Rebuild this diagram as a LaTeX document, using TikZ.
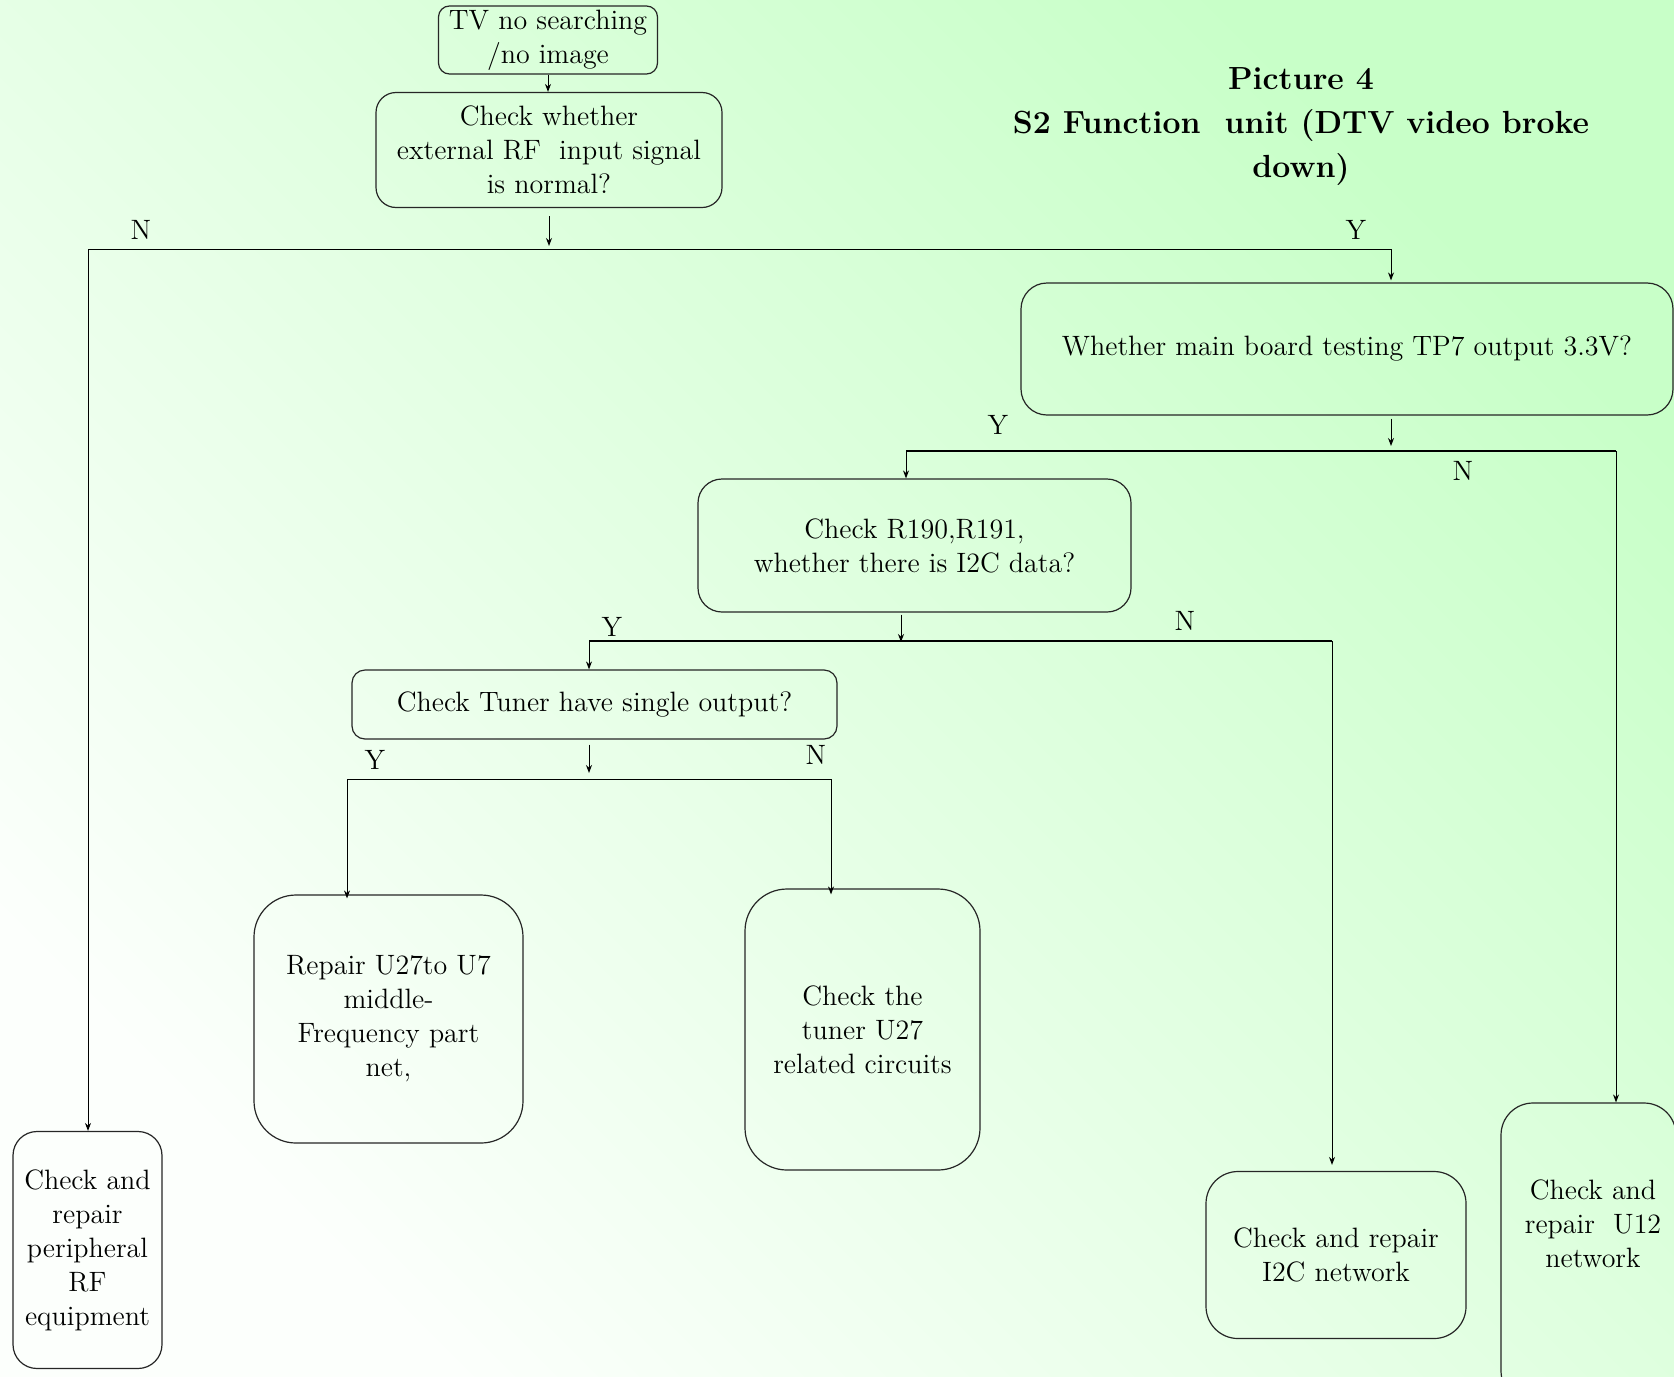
\documentclass[tikz,border=0pt]{standalone}
\usepackage{xcolor}
\usetikzlibrary{positioning}
\usetikzlibrary{arrows.meta}

\definecolor{bgwhite}{RGB}{252,255,252}
\definecolor{bgmid}{RGB}{230,255,230}
\definecolor{bggreen}{RGB}{200,255,200}

\begin{document}
\begin{tikzpicture}[x=0.5pt,y=-0.5pt,
    box/.style={draw=black!85, line width=0.6pt, align=center, inner sep=0pt,
                font=\fontsize{14}{17}\selectfont},
    yn/.style={font=\fontsize{14}{17}\selectfont},
    line/.style={black, line width=0.5pt},
    arr/.style={black, line width=0.5pt, -{Stealth[length=4pt,width=3pt]}},
    bus/.style={black, line width=1.2pt}]
            % Draw Background
            \useasboundingbox (0,0) rectangle (1674,1376);
            \shade[bottom color=bgwhite, middle color=bgmid, top color=bggreen, shading angle=-45]
                (0,0) rectangle (1674,1376);

            % Title
            \node[align=center, font=\fontsize{16}{22}\selectfont\bfseries] (title) at (1301,127)
                {Picture 4\\S2 Function\ \ unit (DTV video broke\\down)};

            % Draw Boxes
            \node[box, rounded corners=5.5pt, minimum width=109.5pt, minimum height=34pt] (start) at (548,40)
                {TV no searching\\/no image};
            \node[box, rounded corners=10pt, minimum width=173pt, minimum height=57.5pt] (rfin) at (549,150)
                {Check whether\\external RF\ \ input signal\\is normal?};
            \node[box, rounded corners=13pt, minimum width=326pt, minimum height=66pt] (tp7) at (1347,349)
                {Whether main board testing TP7 output 3.3V?};
            \node[box, rounded corners=12pt, minimum width=216.5pt, minimum height=66.5pt] (rdata) at (914.5,545.5)
                {Check R190,R191,\\whether there is I2C data?};
            \node[box, rounded corners=6.5pt, minimum width=242.5pt, minimum height=34.5pt] (tuner) at (594.5,704.5)
                {Check Tuner have single output?};
            \node[box, rounded corners=21pt, minimum width=134.5pt, minimum height=124pt] (repair) at (388.5,1019)
                {Repair U27to U7\\middle-\\Frequency part\\net,};
            \node[box, rounded corners=21pt, minimum width=117.5pt, minimum height=140.5pt] (tunerckt) at (862.5,1029.5)
                {Check the\\tuner U27\\related circuits};
            \node[box, rounded corners=12pt, minimum width=74.5pt, minimum height=118.5pt] (rfeq) at (87.5,1250)
                {Check and\\repair\\peripheral\\RF\\equipment};
            \node[box, rounded corners=16pt, minimum width=130pt, minimum height=83.5pt] (iic) at (1336,1255)
                {Check and repair\\I2C network};
            \node[box, rounded corners=16pt, minimum width=87.5pt, minimum height=150pt] (u12) at (1588.5,1253) {};
            \node[align=center, font=\fontsize{14}{17}\selectfont] (u12txt) at (1593,1224)
                {Check and\\repair\ \ U12\\network};

            % Junction points
            \coordinate (a1) at (549,246);
            \coordinate (h1l) at (88,249);
            \coordinate (h1r) at (1391,249);
            \coordinate (a2) at (1391,446);
            \coordinate (h2l) at (906,451);
            \coordinate (h2r) at (1616,451);
            \coordinate (a3) at (901,642);
            \coordinate (h3l) at (589,641);
            \coordinate (h3r) at (1332,641);
            \coordinate (a4) at (589,773);
            \coordinate (h4l) at (347,779);
            \coordinate (h4r) at (831,779);

            % Draw Arrows
            \draw[arr] (start) -- (start.south |- rfin.north);
            \draw[arr] ([yshift=-4pt]rfin.south) -- (a1);
            \draw[line] (h1l) -- (h1r);
            \draw[arr] (h1l) -- (h1l |- rfeq.north);
            \draw[arr] (h1r) -- ([yshift=1pt]h1r |- tp7.north);

            \draw[arr] ([yshift=-1.5pt]tp7.south -| a2) -- (a2);
            \draw[bus] (h2l) -- (h2r);
            \draw[arr] (h2l) -- (h2l |- rdata.north);
            \draw[arr] (h2r) -- (h2r |- u12.north);

            \draw[arr] ([yshift=-1pt]rdata.south -| a3) -- (a3);
            \draw[bus] (h3l) -- (h3r);
            \draw[arr] (h3l) -- (h3l |- tuner.north);
            \draw[arr] (h3r) -- ([yshift=3pt]h3r |- iic.north);

            \draw[arr] ([yshift=-2.5pt]tuner.south -| a4) -- (a4);
            \draw[line] (h4l) -- (h4r);
            \draw[arr] (h4l) -- ([yshift=-2pt]h4l |- repair.north);
            \draw[arr] (h4r) -- ([yshift=-3pt]h4r |- tunerckt.north);

            % Label Branches
            \node[yn] (n1) at (141,230) {N};
            \node[yn] (y1) at (1356,230) {Y};
            \node[yn] (y2) at (998,425) {Y};
            \node[yn] (n2) at (1463,471) {N};
            \node[yn] (y3) at (612,627) {Y};
            \node[yn] (n3) at (1185,621) {N};
            \node[yn] (y4) at (375,760) {Y};
            \node[yn] (n4) at (816,755) {N};
\end{tikzpicture}
\end{document}
